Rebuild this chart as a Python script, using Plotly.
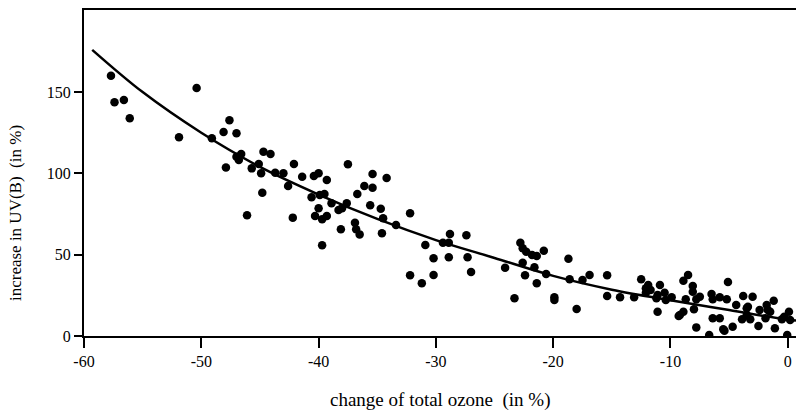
import plotly.graph_objects as go

# scatter observations (change of total ozone %, increase in UV(B) %)
obs_x = [-57.7, -57.4, -56.6, -56.1, -50.4, -51.9, -49.1, -47.6, -48.1, -47.0,
         -47.9, -47.0, -46.6, -46.8, -45.7, -46.1, -44.7, -44.1, -45.1, -44.9,
         -44.8, -43.7, -43.0, -42.6, -42.1, -41.4, -42.2, -40.4, -40.0, -39.3,
         -40.6, -39.9, -39.5, -40.0, -40.3, -39.7, -39.3, -39.7, -38.9, -38.3,
         -37.6, -38.0, -37.5, -38.1, -36.9, -36.8, -36.5, -36.7, -36.1, -35.4,
         -35.4, -34.2, -35.6, -34.7, -34.5, -34.6, -33.4, -32.2, -32.2, -31.2,
         -30.9, -30.2, -30.2, -29.4, -28.8, -28.9, -28.9, -27.4, -27.3, -27.0,
         -24.1, -23.3, -22.8, -22.6, -22.3, -21.8, -21.4, -20.8, -22.6, -21.6,
         -22.4, -21.4, -20.6, -19.9, -19.9, -18.7, -18.6, -18.0, -17.5, -16.9,
         -15.4, -15.4, -14.3, -13.1, -12.5, -11.9, -11.7, -12.1, -11.1, -10.9,
         -10.5, -11.1, -10.4, -9.9, -9.3, -8.5, -8.9, -8.1, -8.1, -8.7,
         -7.8, -9.2, -8.0, -7.8, -6.7, -6.5, -6.4, -5.8, -5.2, -5.1,
         -6.4, -5.8, -5.5, -4.7, -4.4, -3.8, -3.0, -3.5, -3.5, -3.9,
         -3.2, -2.4, -2.5, -1.8, -1.2, -1.5, -1.9, -1.1, -0.3, 0.1,
         0.2, -0.5, -0.05, -11.2, -8.9, -7.5, -5.4, -3.4, -1.7, -12.1]
obs_y = [160.1, 143.7, 145.1, 133.9, 152.5, 122.2, 121.6, 132.7, 125.5, 124.7,
         103.7, 110.3, 111.9, 108.2, 103.1, 74.2, 113.3, 111.9, 105.8, 100.1,
         88.1, 100.4, 100.1, 92.3, 105.8, 98.0, 72.8, 98.4, 100.1, 95.9,
         85.3, 86.7, 87.3, 78.5, 73.8, 71.8, 73.8, 55.8, 81.6, 77.5,
         81.6, 78.5, 105.6, 65.6, 69.7, 65.6, 62.5, 87.3, 92.3, 99.6,
         91.2, 97.2, 80.4, 78.3, 72.4, 63.2, 68.3, 75.5, 37.3, 32.4,
         56.0, 47.8, 37.5, 57.4, 62.7, 57.4, 48.4, 61.9, 48.4, 39.4,
         42.0, 23.2, 57.4, 53.9, 51.8, 49.8, 49.2, 52.5, 45.1, 42.3,
         37.3, 32.4, 38.1, 23.8, 22.1, 47.5, 34.9, 16.6, 34.4, 37.5,
         37.3, 24.6, 23.8, 23.8, 34.9, 31.4, 28.3, 26.6, 25.2, 31.4,
         26.6, 14.9, 22.1, 23.8, 12.3, 37.5, 34.0, 30.8, 27.2, 22.6,
         22.6, 12.9, 16.4, 5.3, 0.6, 25.8, 22.6, 23.8, 22.6, 33.2,
         10.9, 10.9, 4.1, 5.7, 19.1, 24.6, 24.2, 17.0, 12.9, 10.3,
         10.3, 16.0, 6.2, 19.1, 21.7, 14.9, 10.9, 4.7, 11.9, 14.9,
         9.8, 10.3, 0.6, 23.2, 14.9, 24.2, 3.3, 18.0, 16.0, 29.3]

# fitted curve
fit_x = [-59.3, -55, -50, -45, -40, -35, -30, -25, -20, -15, -10, -5, 0, 0.7]
fit_y = [176, 150, 125, 104, 87, 72, 59, 48, 37, 28.5, 22, 16, 10, 9.5]

x_ticks = [-60, -50, -40, -30, -20, -10, 0]
y_ticks = [0, 50, 100, 150]

x_title = "change of total ozone  (in %)"
y_title = "increase in UV(B)  (in %)"

font_family = "Liberation Serif, Times New Roman, serif"

fig = go.Figure()
fig.add_trace(go.Scatter(x=obs_x, y=obs_y, mode="markers",
                         marker=dict(color="black", size=8.5),
                         showlegend=False, hoverinfo="skip"))
fig.add_trace(go.Scatter(x=fit_x, y=fit_y, mode="lines", line_shape="spline",
                         line=dict(color="black", width=2.5),
                         showlegend=False, hoverinfo="skip"))

fig.update_layout(
    width=797, height=412,
    margin=dict(l=84, r=1, t=10, b=76),
    plot_bgcolor="white", paper_bgcolor="white",
    font=dict(family=font_family, size=16, color="black"),
    xaxis=dict(range=[-60, 0.7], tickvals=x_ticks, ticktext=[str(v) for v in x_ticks],
               showgrid=False, zeroline=False, showline=True, linecolor="black",
               linewidth=2, mirror=True, ticks="outside", ticklen=10, tickwidth=2,
               tickcolor="black"),
    yaxis=dict(range=[0, 200.5], tickvals=y_ticks, ticktext=[str(v) for v in y_ticks],
               showgrid=False, zeroline=False, showline=True, linecolor="black",
               linewidth=2, ticks="outside", ticklen=8, tickwidth=2, tickcolor="black"),
    annotations=[
        dict(text=x_title, xref="paper", yref="paper", x=0.5, y=-0.196,
             xanchor="center", yanchor="middle", showarrow=False,
             font=dict(size=19)),
        dict(text=y_title, xref="paper", yref="paper", x=-0.097, y=0.377,
             xanchor="center", yanchor="middle", showarrow=False, textangle=-90,
             font=dict(size=17)),
    ],
)

fig.write_html("out.html")
